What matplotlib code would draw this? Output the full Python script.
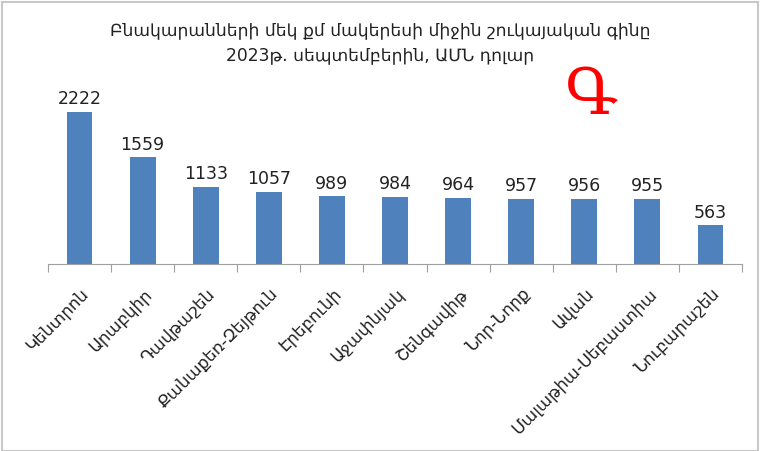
import matplotlib.pyplot as plt
from matplotlib.patches import Rectangle

districts = ["Կենտրոն", "Արաբկիր", "Դավթաշեն", "Քանաքեռ-Զեյթուն", "Էրեբունի",
             "Աջափնյակ", "Շենգավիթ", "Նոր-Նորք", "Ավան", "Մալաթիա-Սեբաստիա",
             "Նուբարաշեն"]
prices = [2222, 1559, 1133, 1057, 989, 984, 964, 957, 956, 955, 563]
title = "Բնակարանների մեկ քմ մակերեսի միջին շուկայական գինը\n2023թ. սեպտեմբերին, ԱՄՆ դոլար"

plt.rcParams['font.family'] = ['DejaVu Sans']

W, H = 760, 452
fig = plt.figure(figsize=(W / 100, H / 100), dpi=100)
fig.patches.append(Rectangle((2 / W, 0), 1 - 4 / W, 1 - 3 / H, transform=fig.transFigure,
                             fill=False, edgecolor='#c8c8c8', linewidth=1.5))

ax = fig.add_axes([48 / W, (H - 265) / H, (742 - 48) / W, (265 - 94) / H])
x = range(len(districts))
bars = ax.bar(x, prices, width=0.41, color='#4f81bd')
ax.set_xlim(-0.5, len(districts) - 0.5)
ax.set_ylim(0, 2500)

for b, v in zip(bars, prices):
    ax.text(b.get_x() + b.get_width() / 2, v + 70, str(v), ha='center', va='bottom',
            fontsize=12.5, color='#222222')

for s in ['top', 'right', 'left']:
    ax.spines[s].set_visible(False)
ax.spines['bottom'].set_color('#a0a0a0')
ax.set_yticks([])
ax.set_xticks([i - 0.5 for i in range(len(districts) + 1)])
ax.tick_params(axis='x', length=6, color='#a0a0a0', labelbottom=False)
ax.set_xticks(list(x), minor=True)
ax.set_xticklabels(districts, minor=True, rotation=45, ha='right', va='top',
                   rotation_mode='anchor', fontsize=12, color='#222222')
ax.tick_params(axis='x', which='minor', length=0, pad=14)

fig.text(0.5, 1 - 43 / H, title, ha='center', va='center', fontsize=12.3,
         linespacing=1.5, color='#222222')
fig.text(591 / W, 1 - 96 / H, "Գ", ha='center', va='center', fontsize=46,
         color='red', family='DejaVu Serif')

fig.savefig('out.png', dpi=100)
